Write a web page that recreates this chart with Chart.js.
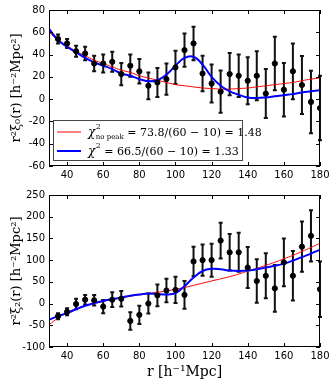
<!DOCTYPE html>
<html>
<head>
<meta charset="utf-8">
<script src="https://cdn.jsdelivr.net/npm/chart.js@4.4.0/dist/chart.umd.min.js"></script>
<style>
  body { margin: 0; background: #fff; }
  canvas { display: block; }
</style>
</head>
<body>
<canvas id="mono" width="333" height="185"></canvas>
<canvas id="quad" width="333" height="197"></canvas>
<script>
// measured points (bin centres)
const r = [35, 40, 45, 50, 55, 60, 65, 70, 75, 80, 85, 90, 95, 100, 105,
           110, 115, 120, 125, 130, 135, 140, 145, 150, 155, 160, 165, 170, 175, 180];

const xi0 = [54, 50, 43, 41, 32, 32, 33.5, 22.5, 30, 25, 12, 15, 18, 28.5, 44,
             50, 23, 14, 6.7, 22.5, 21, 16.5, 21, 5, 32, 8.5, 25, 12.7, -2.5, -8];
const xi0Err = [4, 4, 5, 6, 7, 8, 9, 10, 10, 11, 12, 13, 14, 15, 15,
                15, 16, 17, 19, 19, 19, 21, 22, 22, 24, 24, 25, 26, 28, 29];

const xi2 = [-29, -19, -1, 9, 7.5, -7, 9, 11, -40, -26, 0, 19, 30, 31.5, 20,
             97, 100, 100, 145, 118, 118, 83, 52, 64, 35, 95, 64, 131, 156, 33];
const xi2Err = [7, 8, 12, 11, 12, 15, 17, 18, 20, 21, 23, 25, 27, 30, 32,
                34, 36, 38, 41, 42, 45, 47, 50, 52, 54, 55, 57, 58, 59, 64];

// model curves
const modelR = [30, 35, 40, 45, 50, 55, 60, 65, 70, 75, 80, 85, 90, 95, 100, 105,
                110, 115, 120, 125, 130, 135, 140, 145, 150, 155, 160, 165, 170, 175, 180];
const xi0NoPeak = [60, 53, 48, 43, 39, 35, 32, 29, 26, 24, 21, 19, 17, 15, 13, 12,
                   11, 10, 9.5, 9, 9, 9.5, 10, 11, 12, 13, 14, 15, 16.5, 18, 19];
const xi0Fit = [63, 53, 47, 42, 37, 33, 30, 27, 23, 21, 18, 16, 17, 22, 30, 37,
                38, 31, 20, 12, 7, 4, 1.5, 1, 1.5, 2.5, 3.5, 4.5, 6, 7, 8];
const xi2NoPeak = [-49, -33, -20, -12, -5, 0, 5, 9, 13, 17, 20, 23, 26, 29, 33, 37,
                   42, 47, 52, 57, 62, 68, 75, 81, 88, 95, 103, 111, 120, 129, 139];
const xi2Fit = [-37, -29, -22, -13, -5, 1, 6, 10, 14, 18, 21, 23, 22, 21, 24, 40,
                60, 75, 80, 79, 76, 75, 76, 79, 83, 87, 92, 99, 107, 115, 124];

const xTicks = [40, 60, 80, 100, 120, 140, 160, 180];
const monoTicks = [-60, -40, -20, 0, 20, 40, 60, 80];
const quadTicks = [-100, -50, 0, 50, 100, 150, 200, 250];

const legendRows = [
  { color: 'rgb(255,0,0)', width: 1, sym: 'χ', sup: '2', sub: 'no peak', rest: ' = 73.8/(60 − 10) = 1.48' },
  { color: 'rgb(0,0,255)', width: 2, sym: 'χ', sup: '2', sub: '', rest: ' = 66.5/(60 − 10) = 1.33' }
];

const pairs = (xs, ys) => xs.map((x, i) => ({ x: x, y: ys[i] }));

// error bars, drawn under the points and curves
const errorBars = {
  id: 'errorBars',
  beforeDatasetsDraw(chart) {
    const ctx = chart.ctx, xs = chart.scales.x, ys = chart.scales.y;
    chart.data.datasets.forEach(ds => {
      if (!ds.errors) return;
      ctx.save();
      ctx.strokeStyle = '#111';
      ctx.lineWidth = 2;
      ds.data.forEach((p, i) => {
        const px = xs.getPixelForValue(p.x);
        const lo = ys.getPixelForValue(p.y - ds.errors[i]);
        const hi = ys.getPixelForValue(p.y + ds.errors[i]);
        ctx.beginPath();
        ctx.moveTo(px, lo); ctx.lineTo(px, hi);
        ctx.moveTo(px - 2, lo); ctx.lineTo(px + 2, lo);
        ctx.moveTo(px - 2, hi); ctx.lineTo(px + 2, hi);
        ctx.stroke();
      });
      ctx.restore();
    });
  }
};

// matplotlib style frame with inward ticks
const frame = {
  id: 'frame',
  afterDraw(chart) {
    const ctx = chart.ctx, a = chart.chartArea;
    ctx.save();
    ctx.strokeStyle = '#000';
    ctx.lineWidth = 1;
    ctx.strokeRect(a.left + 0.5, a.top + 0.5, a.right - a.left - 1, a.bottom - a.top - 1);
    ctx.beginPath();
    chart.scales.x.ticks.forEach(t => {
      const px = Math.round(chart.scales.x.getPixelForValue(t.value)) + 0.5;
      ctx.moveTo(px, a.bottom); ctx.lineTo(px, a.bottom - 4);
      ctx.moveTo(px, a.top); ctx.lineTo(px, a.top + 4);
    });
    chart.scales.y.ticks.forEach(t => {
      const py = Math.round(chart.scales.y.getPixelForValue(t.value)) + 0.5;
      ctx.moveTo(a.left, py); ctx.lineTo(a.left + 4, py);
      ctx.moveTo(a.right, py); ctx.lineTo(a.right - 4, py);
    });
    ctx.stroke();
    ctx.restore();
  }
};

// legend box inside the upper panel
const mathLegend = {
  id: 'mathLegend',
  afterDraw(chart, args, opts) {
    if (!opts.rows) return;
    const ctx = chart.ctx, a = chart.chartArea;
    const x0 = a.left + 4, y0 = a.bottom - 46, w = 189, h = 40;
    ctx.save();
    ctx.fillStyle = '#fff';
    ctx.fillRect(x0, y0, w, h);
    ctx.strokeStyle = '#444';
    ctx.lineWidth = 1;
    ctx.strokeRect(x0 + 0.5, y0 + 0.5, w, h);
    opts.rows.forEach((row, i) => {
      const y = y0 + 12 + i * 19;
      ctx.strokeStyle = row.color;
      ctx.lineWidth = row.width;
      ctx.beginPath();
      ctx.moveTo(x0 + 4, y); ctx.lineTo(x0 + 28, y);
      ctx.stroke();
      ctx.fillStyle = '#000';
      ctx.textBaseline = 'middle';
      let x = x0 + 35;
      ctx.font = 'italic 12px "DejaVu Serif"';
      ctx.fillText(row.sym, x, y + 1);
      x += ctx.measureText(row.sym).width + 0.5;
      ctx.font = '8px "DejaVu Serif"';
      ctx.fillText(row.sup, x, y - 5);
      let adv = ctx.measureText(row.sup).width;
      if (row.sub) {
        ctx.font = '7px "DejaVu Serif"';
        ctx.fillText(row.sub, x, y + 5);
        adv = Math.max(adv, ctx.measureText(row.sub).width);
      }
      x += adv;
      ctx.font = '11px "DejaVu Serif"';
      ctx.fillText(row.rest, x, y + 1);
    });
    ctx.restore();
  }
};

function makeChart(id, d, fit, noPeak, err, yMin, yMax, yTicks, yTitle, withXTitle, legendOn) {
  const tickFont = { family: 'DejaVu Sans', size: 10 };
  const titleFont = { family: 'DejaVu Serif', size: 13 };
  return new Chart(document.getElementById(id), {
    type: 'scatter',
    data: {
      datasets: [
        { label: 'data', data: pairs(r, d), errors: err, backgroundColor: '#000',
          borderColor: '#000', pointRadius: 2.6, pointHoverRadius: 2.6 },
        { type: 'line', label: 'fit', data: pairs(modelR, fit), borderColor: 'rgb(0,0,255)',
          borderWidth: 2, pointRadius: 0, tension: 0.4, fill: false },
        { type: 'line', label: 'no peak', data: pairs(modelR, noPeak), borderColor: 'rgb(255,0,0)',
          borderWidth: 1, pointRadius: 0, tension: 0.4, fill: false }
      ]
    },
    options: {
      responsive: false,
      animation: false,
      layout: { padding: { left: 0, right: 13, top: withXTitle ? 5 : 9, bottom: 0 } },
      plugins: {
        legend: { display: false },
        tooltip: { enabled: false },
        mathLegend: { rows: legendOn ? legendRows : null }
      },
      scales: {
        x: {
          type: 'linear', min: 30, max: 180,
          afterBuildTicks: s => { s.ticks = xTicks.map(v => ({ value: v })); },
          afterFit: s => { s.height = withXTitle ? 35 : 19; },
          grid: { display: false, drawTicks: false },
          border: { display: false },
          ticks: { color: '#000', font: tickFont, padding: 3, maxRotation: 0 },
          title: { display: withXTitle, text: 'r [h⁻¹Mpc]', color: '#000',
                   font: { family: 'DejaVu Serif', size: 14 }, padding: { top: 0, bottom: 1 } }
        },
        y: {
          type: 'linear', min: yMin, max: yMax,
          afterBuildTicks: s => { s.ticks = yTicks.map(v => ({ value: v })); },
          afterFit: s => { s.width = 49; },
          grid: { display: false, drawTicks: false },
          border: { display: false },
          ticks: { color: '#000', font: tickFont, padding: 4 },
          title: { display: true, text: yTitle, color: '#000',
                   font: titleFont, padding: { top: 9, bottom: 0 } }
        }
      }
    },
    plugins: [errorBars, frame, mathLegend]
  });
}

makeChart('mono', xi0, xi0Fit, xi0NoPeak, xi0Err, -60, 80, monoTicks,
          'r²ξ₀(r) [h⁻²Mpc²]', false, true);
makeChart('quad', xi2, xi2Fit, xi2NoPeak, xi2Err, -100, 250, quadTicks,
          'r²ξ₂(r) [h⁻²Mpc²]', true, false);
</script>
</body>
</html>
